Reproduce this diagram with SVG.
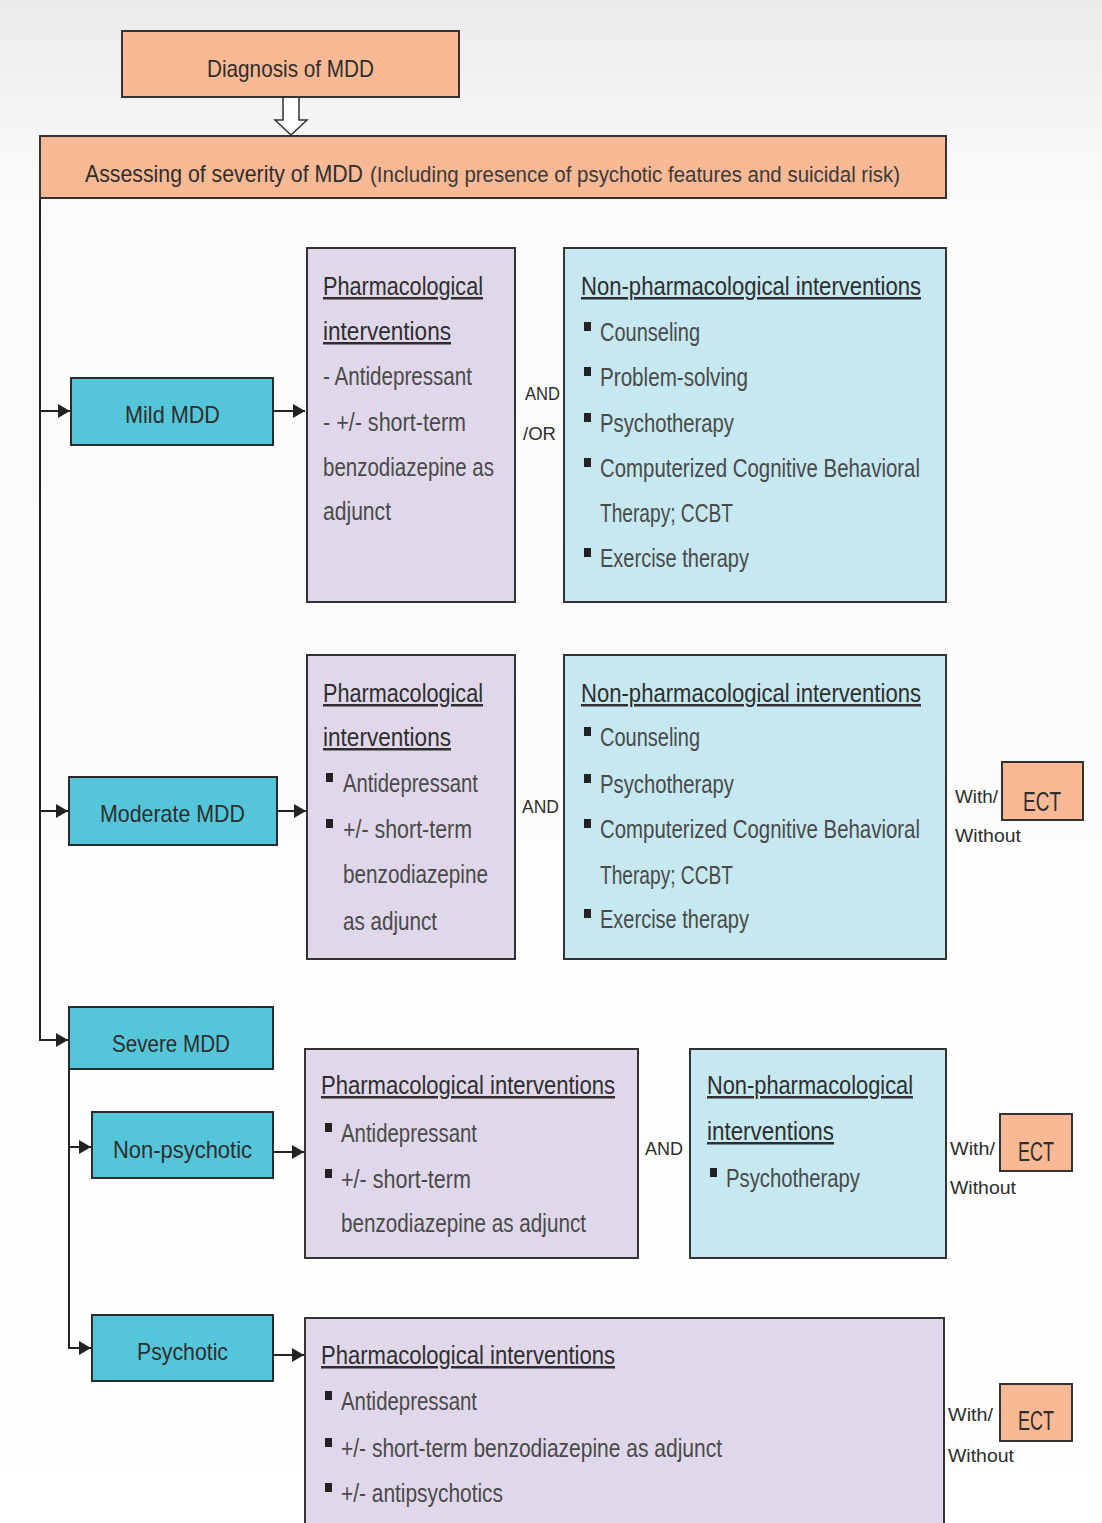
<svg xmlns="http://www.w3.org/2000/svg" width="1102" height="1523" viewBox="0 0 1102 1523">
<defs>
<linearGradient id="bg" x1="0" y1="0" x2="0" y2="1">
<stop offset="0" stop-color="#ebebeb"/>
<stop offset="0.12" stop-color="#fafafa"/>
<stop offset="1" stop-color="#ffffff"/>
</linearGradient>
<marker id="ah" markerUnits="userSpaceOnUse" markerWidth="12" markerHeight="14" refX="12" refY="7" orient="auto">
<path d="M0,0 L12,7 L0,14 Z" fill="#222"/>
</marker>
<style>
.salmon{fill:#f9b994;stroke:#333;stroke-width:2}
.cyan{fill:#55c6d9;stroke:#2b2b2b;stroke-width:2}
.lav{fill:#e0d8ea;stroke:#333;stroke-width:2}
.lblue{fill:#c5e8f1;stroke:#333;stroke-width:2}
text{font-family:"Liberation Sans",Arial,sans-serif;font-size:25px;fill:#4a4a4a}
.hd{fill:#2e2e2e;text-decoration:underline}
.lb{fill:#2e2e2e;font-size:24px}
.sm{fill:#2e2e2e;font-size:19px}
.ect{fill:#2e2e2e;font-size:27px}
.bul{fill:#222}
.con{fill:none;stroke:#222;stroke-width:2}
</style>
</defs>
<rect x="0" y="0" width="1102" height="1523" fill="url(#bg)"/>

<g id="connectors">
<polygon points="283,97 299,97 299,120 307,120 291,135 275,120 283,120" fill="#fff" stroke="#333" stroke-width="1.5"/>
<path class="con" d="M40,198 L40,1040 L68,1040" marker-end="url(#ah)"/>
<path class="con" d="M40,411 L70,411" marker-end="url(#ah)"/>
<path class="con" d="M40,811 L68,811" marker-end="url(#ah)"/>
<path class="con" d="M273,411 L305,411" marker-end="url(#ah)"/>
<path class="con" d="M277,811 L306,811" marker-end="url(#ah)"/>
<path class="con" d="M69,1069 L69,1348 L91,1348" marker-end="url(#ah)"/>
<path class="con" d="M69,1147 L91,1147" marker-end="url(#ah)"/>
<path class="con" d="M273,1152 L304,1152" marker-end="url(#ah)"/>
<path class="con" d="M273,1355 L304,1355" marker-end="url(#ah)"/>
</g>

<g id="diagnosis">
<rect class="salmon" x="122" y="31" width="337" height="66"/>
<text class="lb" x="207" y="77" textLength="167" lengthAdjust="spacingAndGlyphs">Diagnosis of MDD</text>
</g>

<g id="assessing">
<rect class="salmon" x="40" y="136" width="906" height="62"/>
<text x="85" y="182" class="lb" textLength="278" lengthAdjust="spacingAndGlyphs">Assessing of severity of MDD</text>
<text x="370" y="182" style="font-size:22px;fill:#3a3a3a" textLength="530" lengthAdjust="spacingAndGlyphs">(Including presence of psychotic features and suicidal risk)</text>
</g>

<g id="mild">
<rect class="cyan" x="71" y="378" width="202" height="67"/>
<text class="lb" x="125" y="423" textLength="95" lengthAdjust="spacingAndGlyphs">Mild MDD</text>
</g>

<g id="mild-pharm">
<rect class="lav" x="307" y="248" width="208" height="354"/>
<text class="hd" x="323" y="295" textLength="160" lengthAdjust="spacingAndGlyphs">Pharmacological</text>
<text class="hd" x="323" y="340" textLength="128" lengthAdjust="spacingAndGlyphs">interventions</text>
<text x="323" y="385" textLength="149" lengthAdjust="spacingAndGlyphs">- Antidepressant</text>
<text x="323" y="431" textLength="143" lengthAdjust="spacingAndGlyphs">- +/- short-term</text>
<text x="323" y="476" textLength="171" lengthAdjust="spacingAndGlyphs">benzodiazepine as</text>
<text x="323" y="520" textLength="68" lengthAdjust="spacingAndGlyphs">adjunct</text>
</g>

<g id="mild-andor">
<text class="sm" x="525" y="400" textLength="35" lengthAdjust="spacingAndGlyphs">AND</text>
<text class="sm" x="523" y="440" textLength="33" lengthAdjust="spacingAndGlyphs">/OR</text>
</g>

<g id="mild-nonpharm">
<rect class="lblue" x="564" y="248" width="382" height="354"/>
<text class="hd" x="581" y="295" textLength="340" lengthAdjust="spacingAndGlyphs">Non-pharmacological interventions</text>
<rect class="bul" x="584" y="322" width="7" height="9"/>
<text x="600" y="341" textLength="100" lengthAdjust="spacingAndGlyphs">Counseling</text>
<rect class="bul" x="584" y="367" width="7" height="9"/>
<text x="600" y="386" textLength="148" lengthAdjust="spacingAndGlyphs">Problem-solving</text>
<rect class="bul" x="584" y="413" width="7" height="9"/>
<text x="600" y="432" textLength="134" lengthAdjust="spacingAndGlyphs">Psychotherapy</text>
<rect class="bul" x="584" y="458" width="7" height="9"/>
<text x="600" y="477" textLength="320" lengthAdjust="spacingAndGlyphs">Computerized Cognitive Behavioral</text>
<text x="600" y="522" textLength="133" lengthAdjust="spacingAndGlyphs">Therapy; CCBT</text>
<rect class="bul" x="584" y="548" width="7" height="9"/>
<text x="600" y="567" textLength="149" lengthAdjust="spacingAndGlyphs">Exercise therapy</text>
</g>

<g id="moderate">
<rect class="cyan" x="69" y="777" width="208" height="68"/>
<text class="lb" x="100" y="822" textLength="145" lengthAdjust="spacingAndGlyphs">Moderate MDD</text>
</g>

<g id="moderate-pharm">
<rect class="lav" x="307" y="655" width="208" height="304"/>
<text class="hd" x="323" y="702" textLength="160" lengthAdjust="spacingAndGlyphs">Pharmacological</text>
<text class="hd" x="323" y="746" textLength="128" lengthAdjust="spacingAndGlyphs">interventions</text>
<rect class="bul" x="326" y="773" width="7" height="9"/>
<text x="343" y="792" textLength="135" lengthAdjust="spacingAndGlyphs">Antidepressant</text>
<rect class="bul" x="326" y="819" width="7" height="9"/>
<text x="343" y="838" textLength="129" lengthAdjust="spacingAndGlyphs">+/- short-term</text>
<text x="343" y="883" textLength="145" lengthAdjust="spacingAndGlyphs">benzodiazepine</text>
<text x="343" y="930" textLength="94" lengthAdjust="spacingAndGlyphs">as adjunct</text>
</g>

<g id="moderate-and">
<text class="sm" x="522" y="813" textLength="37" lengthAdjust="spacingAndGlyphs">AND</text>
</g>

<g id="moderate-nonpharm">
<rect class="lblue" x="564" y="655" width="382" height="304"/>
<text class="hd" x="581" y="702" textLength="340" lengthAdjust="spacingAndGlyphs">Non-pharmacological interventions</text>
<rect class="bul" x="584" y="727" width="7" height="9"/>
<text x="600" y="746" textLength="100" lengthAdjust="spacingAndGlyphs">Counseling</text>
<rect class="bul" x="584" y="774" width="7" height="9"/>
<text x="600" y="793" textLength="134" lengthAdjust="spacingAndGlyphs">Psychotherapy</text>
<rect class="bul" x="584" y="819" width="7" height="9"/>
<text x="600" y="838" textLength="320" lengthAdjust="spacingAndGlyphs">Computerized Cognitive Behavioral</text>
<text x="600" y="884" textLength="133" lengthAdjust="spacingAndGlyphs">Therapy; CCBT</text>
<rect class="bul" x="584" y="909" width="7" height="9"/>
<text x="600" y="928" textLength="149" lengthAdjust="spacingAndGlyphs">Exercise therapy</text>
</g>

<g id="moderate-ect">
<text class="sm" x="955" y="803" textLength="43" lengthAdjust="spacingAndGlyphs">With/</text>
<text class="sm" x="955" y="842" textLength="66" lengthAdjust="spacingAndGlyphs">Without</text>
<rect class="salmon" x="1002" y="762" width="81" height="58"/>
<text class="ect" x="1042" y="811" text-anchor="middle" textLength="38" lengthAdjust="spacingAndGlyphs">ECT</text>
</g>

<g id="severe">
<rect class="cyan" x="69" y="1007" width="204" height="62"/>
<text class="lb" x="112" y="1052" textLength="118" lengthAdjust="spacingAndGlyphs">Severe MDD</text>
</g>

<g id="nonpsychotic">
<rect class="cyan" x="92" y="1112" width="181" height="66"/>
<text class="lb" x="113" y="1158" textLength="139" lengthAdjust="spacingAndGlyphs">Non-psychotic</text>
</g>

<g id="nonpsychotic-pharm">
<rect class="lav" x="305" y="1049" width="333" height="209"/>
<text class="hd" x="321" y="1094" textLength="294" lengthAdjust="spacingAndGlyphs">Pharmacological interventions</text>
<rect class="bul" x="325" y="1123" width="7" height="9"/>
<text x="341" y="1142" textLength="136" lengthAdjust="spacingAndGlyphs">Antidepressant</text>
<rect class="bul" x="325" y="1169" width="7" height="9"/>
<text x="341" y="1188" textLength="130" lengthAdjust="spacingAndGlyphs">+/- short-term</text>
<text x="341" y="1232" textLength="245" lengthAdjust="spacingAndGlyphs">benzodiazepine as adjunct</text>
</g>

<g id="nonpsychotic-and">
<text class="sm" x="645" y="1155" textLength="38" lengthAdjust="spacingAndGlyphs">AND</text>
</g>

<g id="nonpsychotic-nonpharm">
<rect class="lblue" x="690" y="1049" width="256" height="209"/>
<text class="hd" x="707" y="1094" textLength="206" lengthAdjust="spacingAndGlyphs">Non-pharmacological</text>
<text class="hd" x="707" y="1140" textLength="127" lengthAdjust="spacingAndGlyphs">interventions</text>
<rect class="bul" x="710" y="1168" width="7" height="9"/>
<text x="726" y="1187" textLength="134" lengthAdjust="spacingAndGlyphs">Psychotherapy</text>
</g>

<g id="nonpsychotic-ect">
<text class="sm" x="950" y="1155" textLength="45" lengthAdjust="spacingAndGlyphs">With/</text>
<text class="sm" x="950" y="1194" textLength="66" lengthAdjust="spacingAndGlyphs">Without</text>
<rect class="salmon" x="1000" y="1114" width="72" height="57"/>
<text class="ect" x="1036" y="1161" text-anchor="middle" textLength="36" lengthAdjust="spacingAndGlyphs">ECT</text>
</g>

<g id="psychotic">
<rect class="cyan" x="92" y="1315" width="181" height="66"/>
<text class="lb" x="137" y="1360" textLength="91" lengthAdjust="spacingAndGlyphs">Psychotic</text>
</g>

<g id="psychotic-pharm">
<rect class="lav" x="305" y="1318" width="639" height="215"/>
<text class="hd" x="321" y="1364" textLength="294" lengthAdjust="spacingAndGlyphs">Pharmacological interventions</text>
<rect class="bul" x="325" y="1391" width="7" height="9"/>
<text x="341" y="1410" textLength="136" lengthAdjust="spacingAndGlyphs">Antidepressant</text>
<rect class="bul" x="325" y="1438" width="7" height="9"/>
<text x="341" y="1457" textLength="381" lengthAdjust="spacingAndGlyphs">+/- short-term benzodiazepine as adjunct</text>
<rect class="bul" x="325" y="1483" width="7" height="9"/>
<text x="341" y="1502" textLength="162" lengthAdjust="spacingAndGlyphs">+/- antipsychotics</text>
</g>

<g id="psychotic-ect">
<text class="sm" x="948" y="1421" textLength="45" lengthAdjust="spacingAndGlyphs">With/</text>
<text class="sm" x="948" y="1462" textLength="66" lengthAdjust="spacingAndGlyphs">Without</text>
<rect class="salmon" x="1000" y="1384" width="72" height="57"/>
<text class="ect" x="1036" y="1430" text-anchor="middle" textLength="36" lengthAdjust="spacingAndGlyphs">ECT</text>
</g>
</svg>
